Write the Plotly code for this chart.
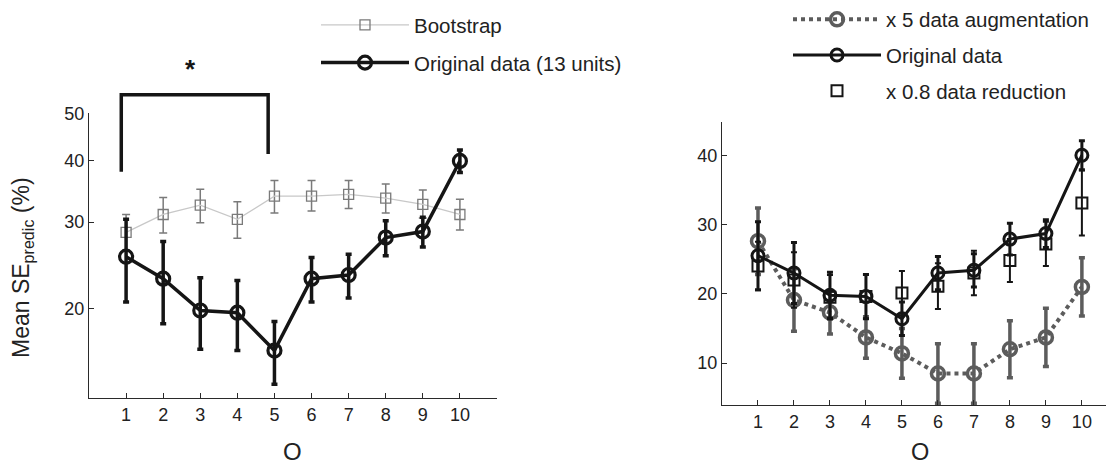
import plotly.graph_objects as go

# ---------------- data ----------------
orders = [1, 2, 3, 4, 5, 6, 7, 8, 9, 10]

# "Original data" (same 13-unit series in both panels): mean and +/- error
orig_mean = [25.5, 23.0, 19.8, 19.6, 16.4, 23.0, 23.4, 27.9, 28.7, 40.0]
orig_err = [4.9, 4.4, 3.3, 3.2, 2.4, 2.4, 2.4, 2.3, 2.0, 2.1]

# Left panel: bootstrap (log y)
boot_mean = [28.6, 31.1, 32.5, 30.4, 33.9, 33.9, 34.2, 33.6, 32.6, 31.1]
boot_hi = [31.1, 33.7, 35.0, 33.0, 36.5, 36.5, 36.5, 35.9, 34.9, 33.4]
boot_lo = [26.3, 28.5, 29.9, 27.8, 31.3, 31.6, 32.0, 31.3, 30.6, 28.9]

left_yticks = [20, 30, 40, 50]

# Right panel (linear y)
aug_mean = [27.6, 19.1, 17.3, 13.7, 11.4, 8.5, 8.5, 12.0, 13.7, 21.0]
aug_err = [4.8, 4.5, 3.1, 3.0, 3.6, 4.3, 4.3, 4.1, 4.2, 4.2]
red_mean = [24.0, 22.0, 19.5, 19.6, 20.1, 21.1, 23.0, 24.8, 27.2, 33.1]
red_err = [3.5, 4.0, 3.2, 3.2, 3.2, 3.3, 3.2, 3.1, 3.2, 4.7]

right_yticks = [10, 20, 30, 40]

FONT = "Liberation Sans, Arial, sans-serif"
W, H = 1106, 467
INK = "#151515"

fig = go.Figure()

# ---- left panel ----
fig.add_trace(go.Scatter(
    x=orders, y=boot_mean, mode="lines+markers", name="Bootstrap",
    line=dict(color="#c8c8c8", width=1.3),
    marker=dict(symbol="square-open", size=10, color="#7a7a7a", line=dict(width=1.3)),
    error_y=dict(type="data", symmetric=False,
                 array=[h - m for h, m in zip(boot_hi, boot_mean)],
                 arrayminus=[m - l for l, m in zip(boot_lo, boot_mean)],
                 color="#7a7a7a", thickness=1.5, width=4),
    xaxis="x", yaxis="y", legend="legend", legendgroup="a",
))
fig.add_trace(go.Scatter(
    x=orders, y=orig_mean, mode="lines+markers", name="Original data (13 units)",
    line=dict(color=INK, width=3.5),
    marker=dict(symbol="circle-open", size=13, color=INK, line=dict(width=3.2)),
    error_y=dict(type="data", array=orig_err, color=INK, thickness=3.5, width=3),
    xaxis="x", yaxis="y", legend="legend", legendgroup="b",
))

# ---- right panel ----
fig.add_trace(go.Scatter(
    x=orders, y=aug_mean, mode="lines+markers", name="x 5 data augmentation",
    line=dict(color="#5c5c5c", width=4, dash="dot"),
    marker=dict(symbol="circle-open", size=13, color="#5c5c5c", line=dict(width=3.5)),
    error_y=dict(type="data", array=aug_err, color="#5c5c5c", thickness=3.5, width=3),
    xaxis="x2", yaxis="y2", legend="legend2", legendgroup="c",
))
fig.add_trace(go.Scatter(
    x=orders, y=orig_mean, mode="lines+markers", name="Original data",
    line=dict(color=INK, width=3),
    marker=dict(symbol="circle-open", size=12, color=INK, line=dict(width=3)),
    error_y=dict(type="data", array=orig_err, color=INK, thickness=3, width=3),
    xaxis="x2", yaxis="y2", legend="legend2", legendgroup="d",
))
fig.add_trace(go.Scatter(
    x=orders, y=red_mean, mode="markers", name="x 0.8 data reduction",
    marker=dict(symbol="square-open", size=11, color=INK, line=dict(width=2)),
    error_y=dict(type="data", array=red_err, color=INK, thickness=2, width=3),
    xaxis="x2", yaxis="y2", legend="legend2", legendgroup="e",
))

axis_common = dict(
    showline=True, linecolor="#2a2a2a", linewidth=1.3, mirror=False,
    ticks="inside", ticklen=5, tickwidth=1.2, tickcolor="#2a2a2a",
    showgrid=False, zeroline=False, automargin=False,
    tickfont=dict(family=FONT, size=18, color="#222"),
)

legend_font = dict(family=FONT, size=20.5, color="#222")

fig.update_layout(
    width=W, height=H,
    margin=dict(l=0, r=0, t=0, b=0, autoexpand=False),
    paper_bgcolor="white", plot_bgcolor="white",
    font=dict(family=FONT, size=18, color="#222"),
    xaxis=dict(domain=[89 / W, 497 / W], range=[0, 11], tickvals=orders,
               anchor="y", **axis_common),
    yaxis=dict(domain=[(H - 398) / H, (H - 113) / H], type="log",
               range=[1.118, 1.700], tickvals=left_yticks,
               ticktext=[str(v) for v in left_yticks], anchor="x", **axis_common),
    xaxis2=dict(domain=[722 / W, 1.0], range=[0, 10.67], tickvals=orders,
                anchor="y2", **axis_common),
    yaxis2=dict(domain=[(H - 405) / H, (H - 122) / H], range=[3.95, 44.8],
                tickvals=right_yticks, anchor="x2", **axis_common),
    legend=dict(x=316 / W, y=0.989, xanchor="left", yanchor="top", itemwidth=88,
                tracegroupgap=8, bgcolor="rgba(0,0,0,0)", font=legend_font),
    legend2=dict(x=788 / W, y=1.001, xanchor="left", yanchor="top", itemwidth=88,
                 tracegroupgap=6, bgcolor="rgba(0,0,0,0)", font=legend_font),
    showlegend=True,
)

# significance bracket (above the left panel)
fig.add_shape(type="path", xref="x", yref="paper",
              path="M 0.87,0.632 L 0.87,0.797 L 4.83,0.797 L 4.83,0.670",
              line=dict(color=INK, width=3.5))
fig.add_annotation(x=2.73, y=(H - 69) / H, xref="x", yref="paper", text="<b>*</b>",
                   xanchor="center", yanchor="middle",
                   showarrow=False, font=dict(family=FONT, size=26, color=INK))

# axis titles
fig.add_annotation(x=22 / W, y=(H - 268) / H, xref="paper", yref="paper",
                   text="Mean SE<sub>predic</sub> (%)", textangle=-90, showarrow=False,
                   xanchor="center", yanchor="middle",
                   font=dict(family=FONT, size=23, color="#222"))
fig.add_annotation(x=292 / W, y=(H - 451) / H, xref="paper", yref="paper",
                   text="O", showarrow=False, xanchor="center", yanchor="middle",
                   font=dict(family=FONT, size=24, color="#222"))
fig.add_annotation(x=920 / W, y=(H - 452) / H, xref="paper", yref="paper",
                   text="O", showarrow=False, xanchor="center", yanchor="middle",
                   font=dict(family=FONT, size=23.5, color="#222"))

fig.write_html("out.html")
